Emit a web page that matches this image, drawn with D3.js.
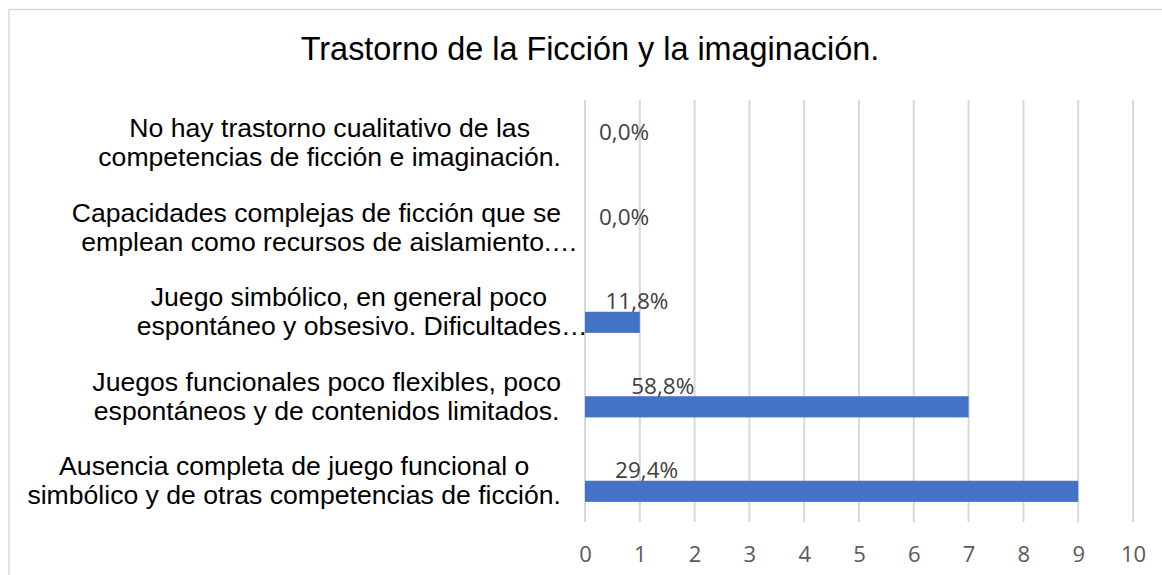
<!DOCTYPE html>
<html>
<head>
<meta charset="utf-8">
<script src="https://cdn.jsdelivr.net/npm/d3@7"></script>
<style>
  html, body { margin: 0; padding: 0; background: #fff; }
  svg { display: block; }
</style>
</head>
<body>
<script>
// ---- data ----
const title = "Trastorno de la Ficción y la imaginación.";
const categories = [
  "No hay trastorno cualitativo de las competencias de ficción e imaginación.",
  "Capacidades complejas de ficción que se emplean como recursos de aislamiento.",
  "Juego simbólico, en general poco espontáneo y obsesivo. Dificultades",
  "Juegos funcionales poco flexibles, poco espontáneos y de contenidos limitados.",
  "Ausencia completa de juego funcional o simbólico y de otras competencias de ficción."
];
// category labels as displayed (wrapped, truncated lines end with an ellipsis flag)
const categoryLines = [
  [["No hay trastorno cualitativo de las", false], ["competencias de ficción e imaginación.", false]],
  [["Capacidades complejas de ficción que se", false], ["emplean como recursos de aislamiento.", true]],
  [["Juego simbólico, en general poco", false], ["espontáneo y obsesivo. Dificultades", true]],
  [["Juegos funcionales poco flexibles, poco", false], ["espontáneos y de contenidos limitados.", false]],
  [["Ausencia completa de juego funcional o", false], ["simbólico y de otras competencias de ficción.", false]]
];
const counts = [0, 0, 1, 7, 9];
const percents = [0.0, 0.0, 0.118, 0.588, 0.294];
const xTicks = [0, 1, 2, 3, 4, 5, 6, 7, 8, 9, 10];

// ---- layout ----
const W = 1162, H = 575;
const svg = d3.select("body").append("svg").attr("width", W).attr("height", H);

svg.append("rect").attr("x", 9).attr("y", 9.5).attr("width", W + 10).attr("height", H + 10)
  .attr("fill", "#fff").attr("stroke", "#d9d9d9").attr("stroke-width", 1.5);

svg.append("text").attr("x", 590).attr("y", 60).attr("text-anchor", "middle")
  .attr("font-family", "'Liberation Sans', Arial, sans-serif").attr("font-size", 32.4)
  .attr("fill", "#000").text(title);

const x = d3.scaleLinear().domain([0, 10]).range([585, 1133]);
const y = d3.scaleBand().domain(categories).range([100.5, 523]).padding(0);
const bw = y.bandwidth();
const sub = d3.scaleBand().domain(["pct", "count"]).range([-bw * 0.25, bw * 0.25]).padding(0);

// gridlines
svg.append("g").selectAll("line").data(xTicks).join("line")
  .attr("x1", d => x(d)).attr("x2", d => x(d))
  .attr("y1", 100).attr("y2", 522)
  .attr("stroke", "#d9d9d9").attr("stroke-width", 2);

// x axis labels
const xAxis = d3.axisBottom(x).tickValues(xTicks).tickSize(0).tickPadding(0).tickFormat(d3.format("d"));
const gx = svg.append("g").attr("transform", "translate(0,546)").call(xAxis);
gx.select(".domain").remove();
gx.selectAll("text").attr("font-family", "'Open Sans', sans-serif").attr("font-size", 22)
  .attr("fill", "#595959").attr("dy", "0.71em");

// bars
svg.append("g").selectAll("rect").data(counts).join("rect")
  .attr("x", x(0))
  .attr("y", (d, i) => y(categories[i]) + bw / 2 + sub("count"))
  .attr("width", d => x(d) - x(0))
  .attr("height", sub.bandwidth())
  .attr("fill", "#4472C4");

// data labels (percent series, outside end)
const esFmt = d3.formatLocale({decimal: ",", thousands: ".", grouping: [3], currency: ["", "€"]}).format(".1%");
svg.append("g").selectAll("text").data(percents).join("text")
  .attr("x", d => x(d) + 14)
  .attr("y", (d, i) => y(categories[i]) + bw / 2 + sub("pct") + sub.bandwidth() / 2)
  .attr("dy", "0.36em")
  .attr("font-family", "'Open Sans', sans-serif").attr("font-size", 22.5)
  .attr("fill", "#404040")
  .text(d => esFmt(d));

// category labels
const labelRight = 561;
const gl = svg.append("g").attr("font-family", "'Liberation Sans', Arial, sans-serif")
  .attr("font-size", 26.6).attr("fill", "#000");
categoryLines.forEach((lines, i) => {
  const c = y(categories[i]) + bw / 2;
  const tmp = lines.map(([t]) => {
    const n = gl.append("text").text(t);
    const w = n.node().getComputedTextLength();
    n.remove();
    return w;
  });
  const maxW = d3.max(tmp);
  const cx = labelRight - maxW / 2;
  lines.forEach(([t, ell], j) => {
    gl.append("text")
      .attr("x", cx - tmp[j] / 2)
      .attr("y", c - 5.5 + j * 29)
      .text(t + (ell ? "…" : ""));
  });
});
</script>
</body>
</html>
